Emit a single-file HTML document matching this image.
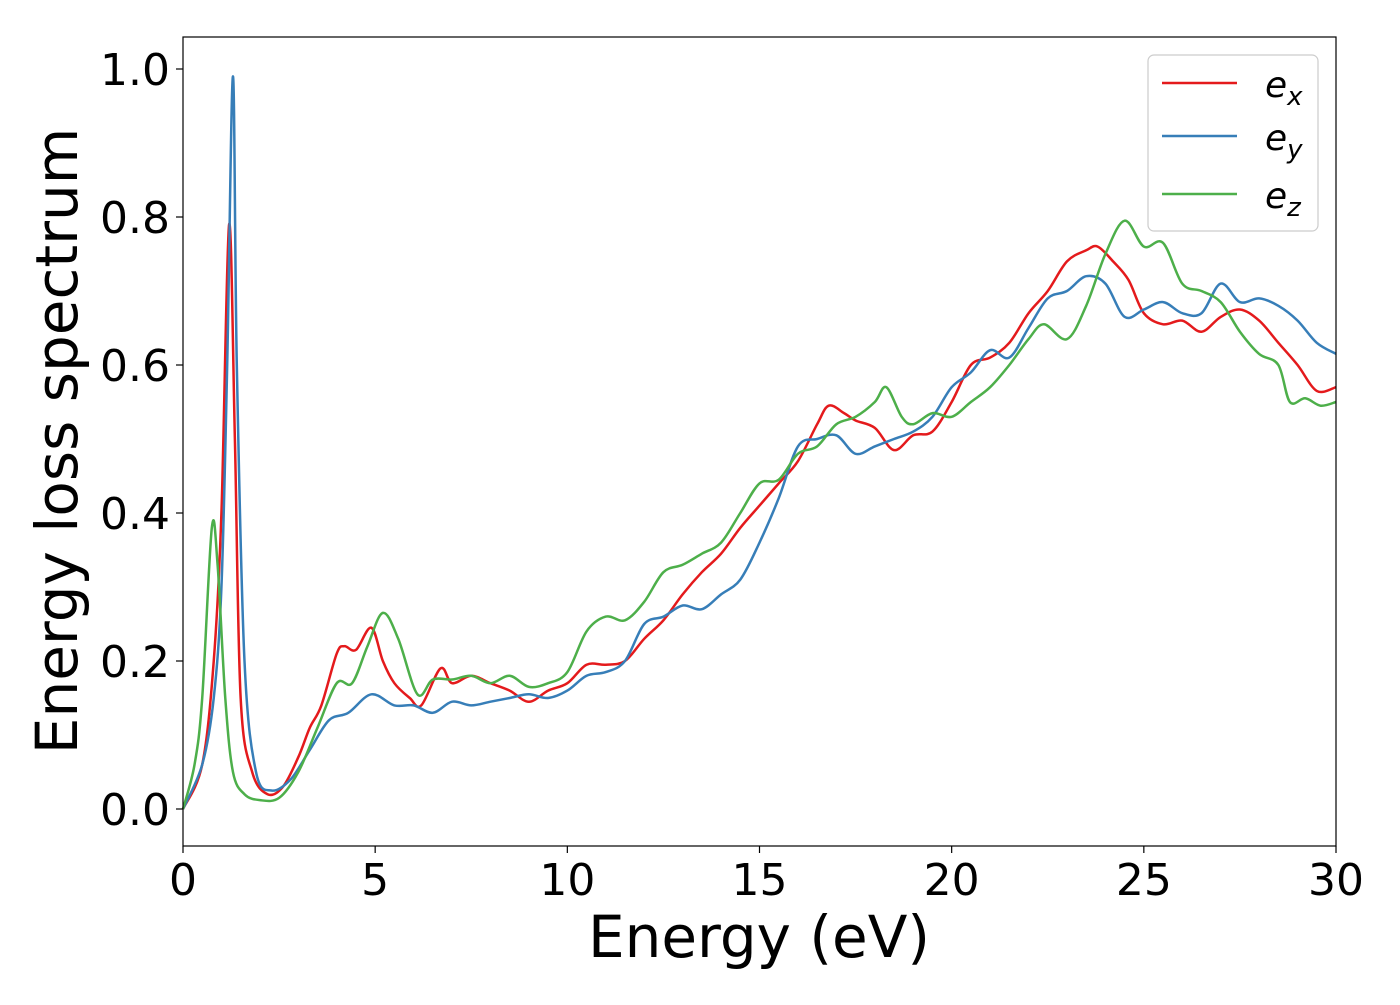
<!DOCTYPE html>
<html><head><meta charset="utf-8"><style>
body{margin:0;background:#fff;}
svg text{font-family:"DejaVu Sans","Liberation Sans",sans-serif;}
</style></head><body>
<svg id="chart" width="1400" height="1000">
<rect x="0" y="0" width="1400" height="1000" fill="#fff"/>
<g id="series"></g>
<rect x="183" y="37" width="1153" height="809" fill="none" stroke="#000" stroke-width="1.2"/>
<g id="xticks"></g>
<g id="yticks"></g>
<text x="759" y="957" font-size="58" text-anchor="middle">Energy (eV)</text>
<text transform="translate(77,441) rotate(-90)" font-size="58" text-anchor="middle">Energy loss spectrum</text>
<g>
<rect x="1148" y="55" width="170" height="176" rx="6" fill="#fff" fill-opacity="0.8" stroke="#ccc" stroke-width="1.2"/>
<line x1="1162" y1="83" x2="1237" y2="83" stroke="#e41a1c" stroke-width="2.5"/>
<text x="1265" y="97" font-size="36" font-style="italic">e<tspan font-size="26" dy="8">x</tspan></text>
<line x1="1162" y1="136" x2="1237" y2="136" stroke="#377eb8" stroke-width="2.5"/>
<text x="1265" y="150" font-size="36" font-style="italic">e<tspan font-size="26" dy="8">y</tspan></text>
<line x1="1162" y1="194" x2="1237" y2="194" stroke="#4daf4a" stroke-width="2.5"/>
<text x="1265" y="208" font-size="36" font-style="italic">e<tspan font-size="26" dy="8">z</tspan></text>
</g>
</svg>
<script>
const xTicks=[0,5,10,15,20,25,30];
const yTicks=[0.0,0.2,0.4,0.6,0.8,1.0];
const exX=[0,0.5,0.8,1.0,1.2,1.35,1.5,1.8,2.2,2.6,3.0,3.3,3.6,4.0,4.2,4.5,4.9,5.2,5.5,5.9,6.2,6.7,7.0,7.5,8.0,8.5,9.0,9.5,10,10.5,11,11.5,12,12.5,13,13.5,14,14.5,15,15.5,16,16.5,16.8,17.2,17.5,18,18.5,19,19.5,20,20.5,21,21.5,22,22.5,23,23.5,23.8,24.2,24.6,25,25.5,26,26.5,27,27.5,28,28.5,29,29.5,30];
const exY=[0,0.06,0.2,0.4,0.79,0.5,0.15,0.05,0.02,0.03,0.07,0.11,0.14,0.21,0.22,0.215,0.245,0.2,0.17,0.15,0.14,0.19,0.17,0.18,0.17,0.16,0.145,0.16,0.17,0.195,0.195,0.2,0.23,0.255,0.29,0.32,0.345,0.38,0.41,0.44,0.47,0.52,0.545,0.535,0.525,0.515,0.485,0.505,0.51,0.55,0.6,0.61,0.63,0.67,0.7,0.74,0.755,0.76,0.74,0.715,0.67,0.655,0.66,0.645,0.665,0.675,0.66,0.63,0.6,0.565,0.57];
const eyX=[0,0.5,0.8,1.0,1.15,1.3,1.4,1.6,1.9,2.3,2.8,3.3,3.8,4.3,4.9,5.5,6.0,6.5,7.0,7.5,8.0,8.5,9.0,9.5,10,10.5,11,11.5,12,12.5,13,13.5,14,14.5,15,15.5,16,16.5,17,17.5,18,18.5,19,19.5,20,20.5,21,21.5,22,22.5,23,23.5,24,24.5,25,25.5,26,26.5,27,27.5,28,28.5,29,29.5,30];
const eyY=[0,0.06,0.15,0.3,0.6,0.99,0.6,0.2,0.05,0.025,0.04,0.08,0.12,0.13,0.155,0.14,0.14,0.13,0.145,0.14,0.145,0.15,0.155,0.15,0.16,0.18,0.185,0.2,0.25,0.26,0.275,0.27,0.29,0.31,0.36,0.42,0.49,0.5,0.505,0.48,0.49,0.5,0.51,0.53,0.57,0.59,0.62,0.61,0.65,0.69,0.7,0.72,0.71,0.665,0.675,0.685,0.67,0.67,0.71,0.685,0.69,0.68,0.66,0.63,0.615];
const ezX=[0,0.3,0.5,0.75,0.9,1.1,1.3,1.6,2.0,2.5,3.0,3.5,4.0,4.4,4.8,5.2,5.6,6.1,6.5,7.0,7.5,8.0,8.5,9.0,9.5,10,10.5,11,11.5,12,12.5,13,13.5,14,14.5,15,15.5,16,16.5,17,17.5,18,18.3,18.7,19,19.5,20,20.5,21,21.5,22,22.4,23,23.5,24,24.5,25,25.5,26,26.5,27,27.5,28,28.5,28.8,29.2,29.6,30];
const ezY=[0,0.06,0.15,0.38,0.33,0.15,0.05,0.02,0.012,0.015,0.05,0.11,0.17,0.17,0.22,0.265,0.23,0.155,0.175,0.175,0.18,0.17,0.18,0.165,0.17,0.185,0.24,0.26,0.255,0.28,0.32,0.33,0.345,0.36,0.4,0.44,0.445,0.48,0.49,0.52,0.53,0.55,0.57,0.53,0.52,0.535,0.53,0.55,0.57,0.6,0.635,0.655,0.635,0.68,0.75,0.795,0.76,0.765,0.71,0.7,0.685,0.645,0.615,0.6,0.55,0.555,0.545,0.55];
const NS="http://www.w3.org/2000/svg";
const sx=v=>183+v*(1153/30);
const sy=v=>809-v*740;
function pathD(xs,ys){
  const p=xs.map((x,i)=>[sx(x),sy(ys[i])]);
  let d="M"+p[0][0]+","+p[0][1];
  for(let i=0;i<p.length-1;i++){
    const p0=p[Math.max(0,i-1)],p1=p[i],p2=p[i+1],p3=p[Math.min(p.length-1,i+2)];
    const c1x=p1[0]+(p2[0]-p0[0])/6,c1y=p1[1]+(p2[1]-p0[1])/6;
    const c2x=p2[0]-(p3[0]-p1[0])/6,c2y=p2[1]-(p3[1]-p1[1])/6;
    d+=" C"+c1x+","+c1y+" "+c2x+","+c2y+" "+p2[0]+","+p2[1];
  }
  return d;
}
const g=document.getElementById("series");
[[exX,exY,"#e41a1c","series-ex"],[eyX,eyY,"#377eb8","series-ey"],[ezX,ezY,"#4daf4a","series-ez"]].forEach(s=>{
  const el=document.createElementNS(NS,"path");
  el.setAttribute("d",pathD(s[0],s[1]));
  el.setAttribute("fill","none");
  el.setAttribute("stroke",s[2]);
  el.setAttribute("stroke-width","2.5");
  
  
  g.appendChild(el);
});
const xg=document.getElementById("xticks");
xTicks.forEach(t=>{
  const l=document.createElementNS(NS,"line");
  l.setAttribute("x1",sx(t));l.setAttribute("x2",sx(t));
  l.setAttribute("y1",846);l.setAttribute("y2",853);
  l.setAttribute("stroke","#000");l.setAttribute("stroke-width","1.2");
  
  
  xg.appendChild(l);
  const tx=document.createElementNS(NS,"text");
  tx.setAttribute("x",sx(t));tx.setAttribute("y",895);
  tx.setAttribute("font-size","44");tx.setAttribute("text-anchor","middle");
  tx.textContent=String(t);
  
  
  xg.appendChild(tx);
});
const yg=document.getElementById("yticks");
yTicks.forEach(t=>{
  const l=document.createElementNS(NS,"line");
  l.setAttribute("x1",176);l.setAttribute("x2",183);
  l.setAttribute("y1",sy(t));l.setAttribute("y2",sy(t));
  l.setAttribute("stroke","#000");l.setAttribute("stroke-width","1.2");
  
  
  yg.appendChild(l);
  const tx=document.createElementNS(NS,"text");
  tx.setAttribute("x",170);tx.setAttribute("y",sy(t)+16);
  tx.setAttribute("font-size","44");tx.setAttribute("text-anchor","end");
  tx.textContent=t.toFixed(1);
  
  
  yg.appendChild(tx);
});
</script>
</body></html>
